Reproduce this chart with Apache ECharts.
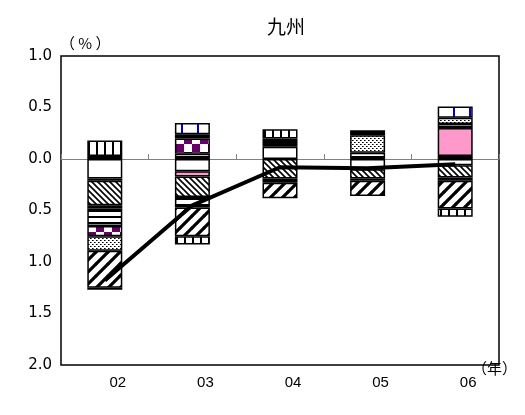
<!DOCTYPE html>
<html><head><meta charset="utf-8">
<script src="https://cdn.jsdelivr.net/npm/echarts@6/dist/echarts.min.js"></script>
<style>html,body{margin:0;padding:0;background:#fff}#c{width:525px;height:415px}</style>
</head><body><div id="c"></div>
<script>
// ---- data ----
const categories = ['02', '03', '04', '05', '06'];
const yTicks = [-2, -1.5, -1, -0.5, 0, 0.5, 1];
const lineValues = [-1.18, -0.45, -0.08, -0.09, -0.05];

// positive components (stacked upward from 0)
const posK1 = [0.03, 0, 0, 0, 0.03];
const posJ  = [0, 0, 0, 0, 0.27];
const posB  = [0, 0, 0.12, 0, 0];
const posE  = [0, 0.05, 0, 0.06, 0.04];
const posF  = [0, 0.15, 0, 0, 0];
const posG  = [0, 0, 0, 0.17, 0.06];
const posK2 = [0, 0.04, 0.08, 0.05, 0];
const posA  = [0.15, 0, 0.09, 0, 0];
const posI  = [0, 0.11, 0, 0, 0.11];

// negative components (stacked downward from 0)
const negB  = [-0.19, -0.12, 0, -0.10, -0.06];
const negJ  = [0, -0.05, 0, 0, 0];
const negCa = [-0.02, 0, 0, 0, 0];
const negD  = [-0.24, -0.20, -0.19, -0.09, -0.12];
const negCb = [0, 0, 0, -0.02, -0.03];
const negK  = [-0.03, 0, 0, 0, 0];
const negE  = [-0.17, -0.10, -0.04, 0, 0];
const negF  = [-0.10, 0, 0, 0, 0];
const negG  = [-0.14, 0, 0, 0, 0];
const negH  = [-0.36, -0.28, -0.15, -0.15, -0.27];
const negA  = [0, -0.08, 0, 0, -0.08];
const negI  = [-0.02, 0, 0, 0, 0];

// ---- patterns ----
function pat(kind) {
  const c = document.createElement('canvas');
  const g = c.getContext('2d');
  let s = 8;
  if (kind === 'A') { s = 8; c.width = s; c.height = s; g.fillStyle = '#fff'; g.fillRect(0,0,s,s); g.fillStyle = '#000'; g.fillRect(0,0,2,s); }
  else if (kind === 'D') { s = 6; c.width = s; c.height = s; g.fillStyle = '#fff'; g.fillRect(0,0,s,s); g.strokeStyle = '#000'; g.lineWidth = 1.6;
    g.beginPath(); g.moveTo(-1,-1); g.lineTo(s+1,s+1); g.moveTo(-1,s-1); g.lineTo(1,s+1); g.moveTo(s-1,-1); g.lineTo(s+1,1); g.stroke(); }
  else if (kind === 'H') { s = 12; c.width = s; c.height = s; g.fillStyle = '#fff'; g.fillRect(0,0,s,s); g.strokeStyle = '#000'; g.lineWidth = 3.2;
    g.beginPath(); g.moveTo(-1,s+1); g.lineTo(s+1,-1); g.moveTo(-1,1); g.lineTo(1,-1); g.moveTo(s-1,s+1); g.lineTo(s+1,s-1); g.stroke(); }
  else if (kind === 'E') { s = 6; c.width = s; c.height = s; g.fillStyle = '#fff'; g.fillRect(0,0,s,s); g.fillStyle = '#000'; g.fillRect(0,0,s,2); }
  else if (kind === 'F') { s = 16; c.width = s; c.height = s; g.fillStyle = '#fff'; g.fillRect(0,0,s,s); g.fillStyle = '#660066'; g.fillRect(0,0,8,8); g.fillRect(8,8,8,8); }
  else if (kind === 'G') { s = 4; c.width = s; c.height = s; g.fillStyle = '#fff'; g.fillRect(0,0,s,s); g.fillStyle = '#000'; g.fillRect(0,0,1,1); g.fillRect(2,2,1,1); g.fillStyle='#666'; g.fillRect(1,0,1,1); g.fillRect(3,2,1,1);}
  else if (kind === 'I') { s = 16; c.width = s; c.height = s; g.fillStyle = '#fff'; g.fillRect(0,0,s,s); g.fillStyle = '#0000cc'; g.fillRect(5,0,2,s); }
  return { image: c, repeat: 'repeat' };
}
const solid = { B: '#ffffff', C: '#660066', J: '#ff99cc', K: '#000000' };
function fill(kind) { return solid[kind] || pat(kind); }

const layers = [
  ['K', posK1], ['J', posJ], ['B', posB], ['E', posE], ['F', posF], ['G', posG], ['K', posK2], ['A', posA], ['I', posI],
  ['B', negB], ['J', negJ], ['C', negCa], ['D', negD], ['C', negCb], ['K', negK], ['E', negE], ['F', negF], ['G', negG], ['H', negH], ['A', negA], ['I', negI]
];

const series = layers.map(([kind, arr]) => ({
  type: 'bar', stack: 'all', xAxisIndex: 0, barWidth: 35,
  data: arr.map(v => v === 0 ? '-' : v),
  itemStyle: { color: fill(kind), borderColor: '#000', borderWidth: 1.5 },
  emphasis: { disabled: true }, silent: true
}));
series.push({
  type: 'line', xAxisIndex: 0, data: lineValues, symbol: 'none', z: 10,
  lineStyle: { color: '#000', width: 4 }, silent: true
});

const font = 'Liberation Sans, Arial, sans-serif';
const chart = echarts.init(document.getElementById('c'), null, { renderer: 'canvas' });
chart.setOption({
  animation: false,
  backgroundColor: '#fff',
  grid: { left: 61, right: 26, top: 56, bottom: 50, show: true, borderColor: '#000', borderWidth: 1.5, backgroundColor: '#fff' },
  xAxis: [
    { type: 'category', data: categories, position: 'bottom',
      axisLine: { show: false, onZero: false }, axisTick: { show: false },
      axisLabel: { color: '#000', fontSize: 15, fontFamily: font, margin: 10, padding: [0, 0, 0, 26] } },
    { type: 'category', data: categories, position: 'bottom',
      axisLine: { show: true, onZero: true, lineStyle: { color: '#808080', width: 1 } },
      axisTick: { show: true, inside: true, length: 5, lineStyle: { color: '#808080' } },
      axisLabel: { show: false } }
  ],
  yAxis: { type: 'value', min: yTicks[0], max: yTicks[yTicks.length - 1], interval: 0.5,
    axisLine: { show: false }, axisTick: { show: false }, splitLine: { show: false },
    axisLabel: { color: '#000', fontSize: 15, fontFamily: 'DejaVu Sans', margin: 9, formatter: v => Math.abs(v).toFixed(1) } },
  graphic: [
    { type: 'text', left: 267, top: 17, style: { text: '九州', font: '19px "Noto Sans CJK JP"', fill: '#000' } },
    { type: 'text', left: 60, top: 36, style: { text: '（ % ）', font: '15px "Noto Sans CJK JP"', fill: '#000' } },
    { type: 'text', left: 472, top: 361, style: { text: '（年）', font: '15px "Noto Sans CJK JP"', fill: '#000' } }
  ],
  series: series
});
</script></body></html>
